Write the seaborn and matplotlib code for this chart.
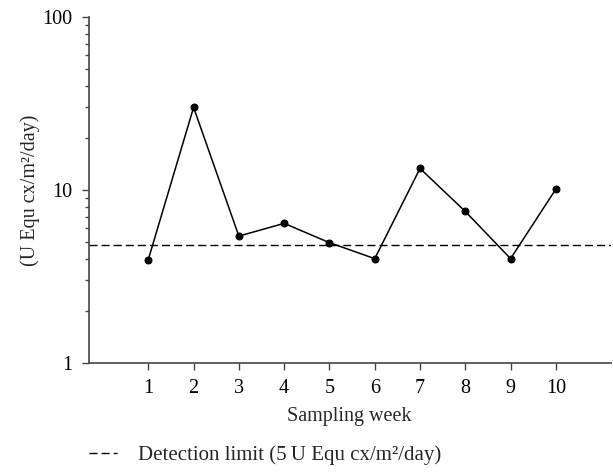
import numpy as np
import pandas as pd
import matplotlib
matplotlib.use("Agg")
import matplotlib.pyplot as plt
from matplotlib.ticker import LogLocator, FixedLocator, NullFormatter
import seaborn as sns

weeks = [1, 2, 3, 4, 5, 6, 7, 8, 9, 10]
values = [3.95, 30.0, 5.4, 6.4, 4.95, 4.0, 13.3, 7.5, 4.0, 10.1]
detection_limit = 4.8
ytick_labels = ["1", "10", "100"]

sns.set_theme(style="ticks")
plt.rcParams['font.family'] = ['Liberation Serif', 'DejaVu Serif']

df = pd.DataFrame({"week": weeks, "value": values})

fig = plt.figure(figsize=(6.13, 4.73), dpi=100)
ax = fig.add_axes([0.1444, 0.2332, 0.8518, 0.7308])

sns.lineplot(data=df, x="week", y="value", ax=ax, color="black", linewidth=1.1,
             marker="o", markersize=5, markeredgecolor="black")
ax.axhline(detection_limit, color="black", linestyle=(0, (5.8, 2.9)), linewidth=1,
           label="Detection limit (5\u2009U Equ cx/m\u00b2/day)")

ax.set_yscale("log")
ax.set_ylim(1, 100)
ax.set_xlim(-0.32, 11.21)
ax.yaxis.set_major_locator(FixedLocator([1, 10, 100]))
ax.set_yticklabels(ytick_labels)
ax.yaxis.set_minor_locator(LogLocator(base=10, subs=np.arange(2, 10)))
ax.yaxis.set_minor_formatter(NullFormatter())
ax.set_xticks(weeks)
ax.set_xticklabels([str(w) for w in weeks])

for side in ["top", "right"]:
    ax.spines[side].set_visible(False)
for side in ["left", "bottom"]:
    ax.spines[side].set_color("#444444")
    ax.spines[side].set_linewidth(1.2)
ax.tick_params(axis="both", which="major", length=5, width=1, color="#444444",
               labelsize=14.5, pad=7, labelcolor="black")
ax.tick_params(axis="y", which="minor", length=3, width=1, color="#444444")

ax.set_xlabel("Sampling week", fontsize=14.5, labelpad=6)
ax.set_ylabel("(U Equ cx/m\u00b2/day)", fontsize=14.5, labelpad=1)

ax.legend(loc="center left", bbox_to_anchor=(0.115, 0.038), bbox_transform=fig.transFigure,
          frameon=False, fontsize=15, handlelength=1.35, handletextpad=1.0)

fig.savefig("out.png", dpi=100)
